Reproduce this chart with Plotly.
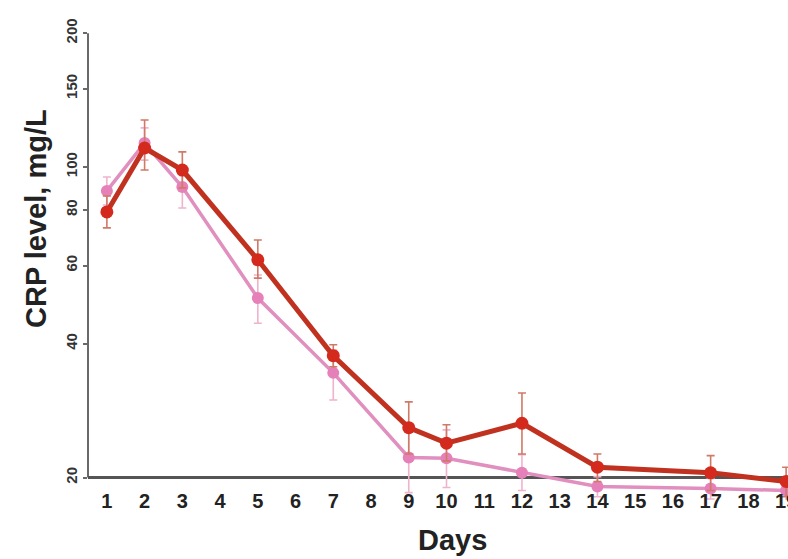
import plotly.graph_objects as go

# Sampling days and CRP means (mg/L) with asymmetric error bars
days = [1, 2, 3, 5, 7, 9, 10, 12, 14, 17, 19]

red_mean = [79.2, 110.3, 98.4, 61.8, 37.6, 25.9, 23.9, 26.5, 21.1, 20.5, 19.6]
red_err_up = [6.8, 17.2, 9.7, 6.7, 2.2, 3.7, 2.4, 4.5, 1.5, 1.9, 1.5]
red_err_down = [6.3, 11.9, 8.7, 5.6, 2.1, 3.3, 2.1, 3.9, 1.5, 1.8, 1.5]

pink_mean = [88.3, 113.2, 90.1, 50.7, 34.4, 22.2, 22.1, 20.5, 19.1, 18.9, 18.7]
pink_err_up = [6.6, 9.2, 8.3, 6.4, 4.3, 3.4, 3.5, 2.0, 1.0, 1.0, 1.0]
pink_err_down = [6.2, 9.6, 9.3, 6.2, 4.5, 3.7, 3.1, 1.8, 1.0, 1.0, 1.0]

x_ticks = list(range(1, 20))
y_ticks = [20, 40, 60, 80, 100, 150, 200]
y_tick_text = ["20", "40", "60", "80", "100", "150", "200"]

RED = "#d42a1e"
RED_LINE = "#c0321f"
RED_ERR = "#cf7a66"
PINK = "#e580b8"
PINK_LINE = "#e08fbe"
PINK_ERR = "#efb3cc"

fig = go.Figure()

fig.add_trace(go.Scatter(
    x=days, y=pink_mean, mode="lines+markers",
    line=dict(color=PINK_LINE, width=3.5),
    marker=dict(color=PINK, size=12),
    error_y=dict(type="data", symmetric=False, array=pink_err_up,
                 arrayminus=pink_err_down, color=PINK_ERR, thickness=1.6, width=4),
    showlegend=False,
))

fig.add_trace(go.Scatter(
    x=days, y=red_mean, mode="lines+markers",
    line=dict(color=RED_LINE, width=5),
    marker=dict(color=RED, size=13),
    error_y=dict(type="data", symmetric=False, array=red_err_up,
                 arrayminus=red_err_down, color=RED_ERR, thickness=1.6, width=4),
    showlegend=False,
))

# Axis lines: vertical from 20 to 200, horizontal baseline at 20
fig.add_shape(type="line", xref="paper", x0=0, x1=0, yref="y", y0=20, y1=200,
              line=dict(color="#6a6a6a", width=2), layer="below")
fig.add_shape(type="line", xref="paper", x0=0, x1=1, yref="y", y0=20, y1=20,
              line=dict(color="#555555", width=3), layer="below")

tick_font = dict(family="Liberation Sans Narrow, Arial Narrow, Liberation Sans",
                 size=20, color="#222222", weight="bold")

fig.update_layout(
    width=788, height=559,
    margin=dict(l=88, r=0, t=10, b=59),
    paper_bgcolor="white", plot_bgcolor="white",
    xaxis=dict(
        range=[0.5, 19.05], tickvals=x_ticks, ticks="", showline=False,
        showgrid=False, zeroline=False, tickfont=tick_font,
        ticklabelstandoff=-13, ticklabeloverflow="allow", automargin=False,
    ),
    yaxis=dict(
        type="log", range=[1.2505, 2.3531],
        tickvals=y_ticks, ticktext=y_tick_text, tickangle=-90,
        ticks="outside", ticklen=4, tickcolor="#6a6a6a", tickwidth=1.5,
        showline=False, showgrid=False, zeroline=False, automargin=False,
        tickfont=dict(family="Liberation Sans Narrow, Arial Narrow, Liberation Sans",
                      size=15, color="#333333", weight="bold"),
    ),
    annotations=[
        dict(text="CRP level, mg/L", xref="paper", yref="paper",
             x=-0.0743, y=0.5755, textangle=-90, showarrow=False,
             xanchor="center", yanchor="middle",
             font=dict(family="Liberation Sans, Arial", size=29,
                       color="#222222", weight="bold")),
        dict(text="Days", xref="paper", yref="paper",
             x=0.52, y=-0.0816, showarrow=False,
             xanchor="center", yanchor="middle",
             font=dict(family="Liberation Sans, Arial", size=29,
                       color="#222222", weight="bold")),
    ],
)

fig.write_html("out.html")
